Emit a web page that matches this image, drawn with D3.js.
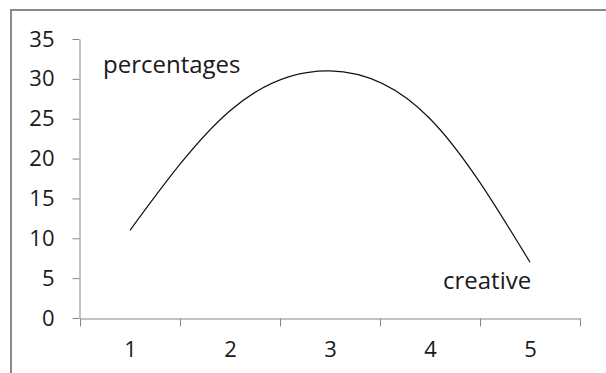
<!DOCTYPE html>
<html>
<head>
<meta charset="utf-8">
<script src="https://cdn.jsdelivr.net/npm/d3@7"></script>
<style>
  body { margin: 0; background: #fff; }
  svg { display: block; }
  .axis path, .axis line { stroke: #868686; }
  .axis text { font-family: "Open Sans", sans-serif; font-size: 22px; fill: #1a1a1a; }
</style>
</head>
<body>
<div class="chart"></div>
<script>
// chart data
const categories = [1, 2, 3, 4, 5]
const percentages = [11, 26, 31, 25, 7]
const yTicks = [0, 5, 10, 15, 20, 25, 30, 35]
// text boxes, placed in axis units
const notes = [
  {text: "percentages", x: 0.73, y: 30.7},
  {text: "creative", x: 4.13, y: 3.6}
]

const width = 606,
      height = 373

const svg = d3.select(".chart")
  .append("svg")
    .attr("width", width)
    .attr("height", height)

// chart border (top + left only are visible)
svg.append("path")
  .attr("d", "M11,373V10H606")
  .attr("fill", "none")
  .attr("stroke", "#8a8a8a")
  .attr("stroke-width", 2)

// categories sit between tick marks
const x = d3.scaleLinear()
  .domain([0.5, 5.5])
  .range([80, 580])

const y = d3.scaleLinear()
  .domain([0, 35])
  .range([318, 39])

const bounds = d3.range(0.5, 6, 1)

svg.append("g")
  .attr("class", "axis")
  .attr("transform", "translate(0," + (y(0) + 0.5) + ")")
  .call(d3.axisBottom(x).tickValues(bounds).tickSize(8).tickSizeOuter(0).tickFormat(""))

svg.append("g")
  .attr("class", "axis")
  .attr("transform", "translate(0," + (y(0) + 0.5) + ")")
  .call(d3.axisBottom(x).tickValues(categories).tickSize(0).tickPadding(23).tickFormat(d3.format("d")))
  .call(g => g.select(".domain").remove())

svg.append("g")
  .attr("class", "axis")
  .attr("transform", "translate(79.5,0)")
  .call(d3.axisLeft(y).tickValues(yTicks).tickSize(7).tickSizeOuter(0).tickPadding(18))

// smoothed line
const line = d3.line()
  .x((d, i) => x(categories[i]))
  .y(d => y(d))
  .curve(d3.curveNatural)

svg.append("path")
  .datum(percentages)
  .attr("d", line)
  .attr("fill", "none")
  .attr("stroke", "#111")
  .attr("stroke-width", 1.2)

svg.selectAll(".note")
  .data(notes)
  .enter()
  .append("text")
    .attr("class", "note")
    .attr("x", d => x(d.x))
    .attr("y", d => y(d.y))
    .attr("font-family", "Open Sans, sans-serif")
    .attr("font-size", 24)
    .attr("fill", "#1a1a1a")
    .text(d => d.text)
</script>
</body>
</html>
